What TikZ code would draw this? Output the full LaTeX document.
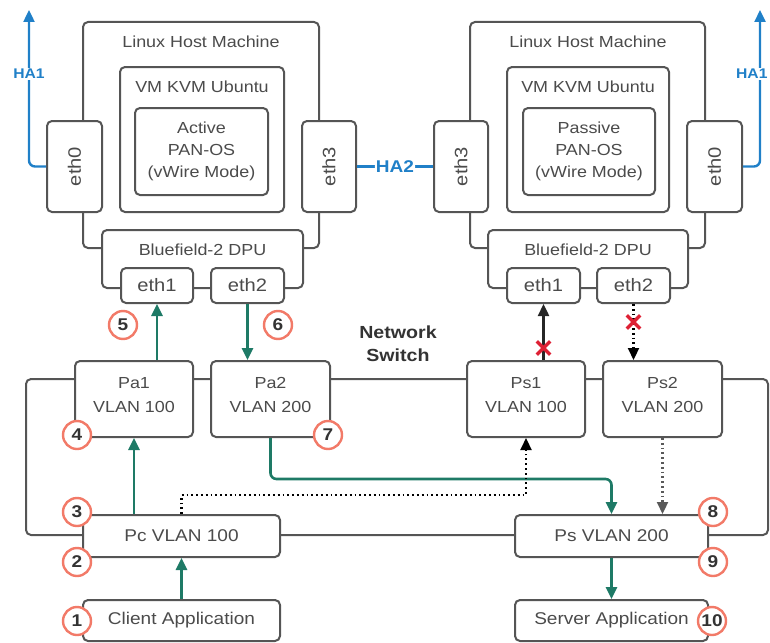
\documentclass[tikz,border=0pt]{standalone}
\usepackage{graphicx}
\usepackage{fontspec}
\setmainfont{Liberation Sans}[FakeStretch=1.12]
\usetikzlibrary{arrows.meta,shapes.misc}
\definecolor{boxline}{RGB}{85,85,85}
\definecolor{boxtext}{RGB}{75,75,75}
\definecolor{flowgreen}{RGB}{30,122,102}
\definecolor{hablue}{RGB}{32,128,200}
\definecolor{stepred}{RGB}{242,122,104}
\definecolor{blockred}{RGB}{222,32,52}

\begin{document}
\begin{tikzpicture}[x=1pt,y=-1pt,line width=2pt,
  box/.style={draw=boxline,fill=white,rounded corners=5pt,text=boxtext,align=center,inner sep=0pt,font=\fontsize{16}{22}\selectfont},
  portbox/.style={box,font=\fontsize{16}{24}\selectfont},
  lbl/.style={text=boxtext,align=center,inner sep=1pt,font=\fontsize{16}{22}\selectfont},
  flow/.style={draw=flowgreen,line width=2.6pt,-{Triangle[length=12pt,width=11pt]}},
  dotline/.style={draw=black,line width=2.2pt,dash pattern=on 1.8pt off 3pt,-{Triangle[length=12pt,width=11pt]}},
  haline/.style={draw=hablue,line width=2.4pt,rounded corners=6pt},
  halbl/.style={fill=white,text=hablue,inner sep=1pt,font=\bfseries\fontsize{14}{16}\selectfont},
  stepno/.style={circle,draw=stepred,fill=white,line width=2.4pt,minimum size=28pt,inner sep=0pt,text=black!80,font=\bfseries\fontsize{17}{19}\selectfont},
  blockx/.style={cross out,draw=blockred,line width=3.4pt,minimum size=10pt,inner sep=0pt}]
\useasboundingbox (0,0) rectangle (770,642);
% left host
\node[box,minimum width=236,minimum height=226] (hostL) at (201,135) {};
\node[lbl] (hostLt) at (201,42) {Linux Host Machine};
\node[box,minimum width=164,minimum height=145] (vmL) at (202,139.5) {};
\node[lbl] (vmLt) at (202,87) {VM KVM Ubuntu};
\node[box,minimum width=133,minimum height=87] (panL) at (201.5,151.5) {Active\\PAN-OS\\(vWire Mode)};
\node[box,minimum width=55,minimum height=91,font=\fontsize{18}{20}\selectfont] (eth0L) at (74.5,166.5) {\rotatebox{90}{eth0}};
\node[box,minimum width=54,minimum height=91,font=\fontsize{18}{20}\selectfont] (eth3L) at (329,166.5) {\rotatebox{90}{eth3}};
\node[box,minimum width=201,minimum height=58] (dpuL) at (202.5,259) {};
\node[lbl] (dpuLt) at (202.5,250) {Bluefield-2 DPU};
\node[box,minimum width=72,minimum height=35,font=\fontsize{18}{20}\selectfont] (eth1L) at (157,285.5) {eth1};
\node[box,minimum width=73,minimum height=35,font=\fontsize{18}{20}\selectfont] (eth2L) at (247.5,285.5) {eth2};
% right host
\node[box,minimum width=235,minimum height=226] (hostR) at (587.5,135) {};
\node[lbl] (hostRt) at (588,42) {Linux Host Machine};
\node[box,minimum width=162,minimum height=145] (vmR) at (588,139.5) {};
\node[lbl] (vmRt) at (588,87) {VM KVM Ubuntu};
\node[box,minimum width=132,minimum height=87] (panR) at (589,151.5) {Passive\\PAN-OS\\(vWire Mode)};
\node[box,minimum width=54,minimum height=91,font=\fontsize{18}{20}\selectfont] (eth3R) at (461,166.5) {\rotatebox{90}{eth3}};
\node[box,minimum width=55,minimum height=91,font=\fontsize{18}{20}\selectfont] (eth0R) at (714.5,166.5) {\rotatebox{90}{eth0}};
\node[box,minimum width=200,minimum height=58] (dpuR) at (588,259) {};
\node[lbl] (dpuRt) at (588,250) {Bluefield-2 DPU};
\node[box,minimum width=73,minimum height=35,font=\fontsize{18}{20}\selectfont] (eth1R) at (543.5,285.5) {eth1};
\node[box,minimum width=73,minimum height=35,font=\fontsize{18}{20}\selectfont] (eth2R) at (633.5,285.5) {eth2};
% HA links
\coordinate (ha1Ltip) at (29,10);
\coordinate (ha1Rtip) at (760,10);
\draw[haline,-{Triangle[length=12pt,width=11pt]}] (eth0L.west) -| (ha1Ltip);
\node[halbl] (ha1Lt) at (29,74) {HA1};
\draw[haline,-{Triangle[length=12pt,width=11pt]}] (eth0R.east) -| (ha1Rtip);
\node[halbl,anchor=east] (ha1Rt) at (769.5,74) {HA1};
\draw[haline] (eth3L.east) -- (eth3R.west) node[halbl,midway,font=\bfseries\fontsize{17}{19}\selectfont] (ha2t) {HA2};
% network switch
\node[draw=boxline,rounded corners=5pt,minimum width=742,minimum height=156,inner sep=0pt] (switch) at (397,457) {};
\node[align=center,inner sep=1pt,text=black!80,font=\bfseries\fontsize{17.5}{23}\selectfont] (switcht) at (398,344) {Network\\Switch};
\node[portbox,minimum width=118,minimum height=76] (pa1) at (134,399) {Pa1\\VLAN 100\\[-16pt]};
\node[portbox,minimum width=119,minimum height=76] (pa2) at (270.5,399) {Pa2\\VLAN 200\\[-16pt]};
\node[portbox,minimum width=118,minimum height=76] (ps1) at (526,399) {Ps1\\VLAN 100\\[-16pt]};
\node[portbox,minimum width=119,minimum height=76] (ps2) at (662.5,399) {Ps2\\VLAN 200\\[-16pt]};
\node[box,minimum width=197,minimum height=42,font=\fontsize{17}{20}\selectfont] (pc) at (181.5,536) {Pc VLAN 100};
\node[box,minimum width=193,minimum height=42,font=\fontsize{17}{20}\selectfont] (psv) at (611.5,536) {Ps VLAN 200};
\node[box,minimum width=197,minimum height=41,font=\fontsize{17}{20}\selectfont] (client) at (181.5,620.5) {Client Application};
\node[box,minimum width=193,minimum height=41,font=\fontsize{17}{20}\selectfont] (server) at (611.5,620.5) {Server Application};
% traffic
\draw[flow] (client.north) -- (pc.south);
\draw[flow] (pc.north -| pa1.south) -- (pa1.south);
\draw[flow] (eth1L.south |- pa1.north) -- (eth1L.south);
\draw[flow] (eth2L.south) -- (eth2L.south |- pa2.north);
\draw[flow,rounded corners=6pt] (pa2.south) -- ++(0,41) -| (psv.north);
\draw[flow] (psv.south) -- (server.north);
\draw[dotline] (pc.north) -- ++(0,-19) -| (ps1.south);
\draw[dotline,draw=black!65] (ps2.south) -- (ps2.south |- psv.north);
\draw[draw=black!85,line width=2.4pt,-{Triangle[length=12pt,width=11pt]}] (eth1R.south |- ps1.north) -- (eth1R.south);
\draw[dotline] (eth2R.south) -- (eth2R.south |- ps2.north);
\node[blockx] (x1) at (543.5,348) {};
\node[blockx] (x2) at (633.5,322) {};
% step numbers
\node[stepno] (s1) at (77,621) {1};
\node[stepno] (s2) at (77,562) {2};
\node[stepno] (s3) at (77,512) {3};
\node[stepno] (s4) at (77,435) {4};
\node[stepno] (s5) at (123,325) {5};
\node[stepno] (s6) at (278,325) {6};
\node[stepno] (s7) at (328,435) {7};
\node[stepno] (s8) at (713,512) {8};
\node[stepno] (s9) at (713,562) {9};
\node[stepno] (s10) at (712,621) {10};
\end{tikzpicture}
\end{document}
